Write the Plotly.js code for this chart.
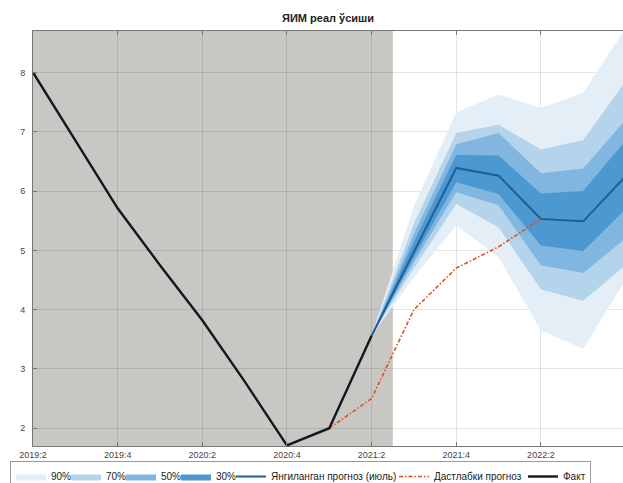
<!DOCTYPE html>
<html>
<head>
<meta charset="utf-8">
<script src="https://cdn.plot.ly/plotly-3.0.1.min.js"></script>
<style>
html,body{margin:0;padding:0;background:#fff;}
#chart{width:623px;height:483px;}
</style>
</head>
<body>
<div id="chart"></div>
<script>
// Quarters (category labels)
const quarters = ["2019:2","2019:3","2019:4","2020:1","2020:2","2020:3","2020:4",
                  "2021:1","2021:2","2021:3","2021:4","2022:1","2022:2","2022:3","2022:4"];
const tickLabels = ["2019:2","2019:4","2020:2","2020:4","2021:2","2021:4","2022:2","2022:4"];

// Actual (Факт), from 2019:2
const factStart = "2019:2";
const fact = [8.00, 6.86, 5.71, 4.75, 3.82, 2.79, 1.71, 2.00, 3.56];

// Initial forecast (Дастлабки прогноз), from 2021:1
const initialStart = "2021:1";
const initialForecast = [2.00, 2.50, 4.00, 4.70, 5.06, 5.53];

// Updated forecast (Янгиланган прогноз (июль)), from 2021:2
const updatedStart = "2021:2";
const updatedForecast = [3.56, 4.98, 6.39, 6.26, 5.53, 5.49, 6.25];

// Fan chart bands, from 2021:2
const band90Hi = [3.56, 5.75, 7.33, 7.63, 7.40, 7.66, 8.75];
const band90Lo = [3.56, 4.55, 5.42, 4.89, 3.65, 3.34, 4.50];
const band70Hi = [3.56, 5.45, 6.98, 7.12, 6.70, 6.86, 7.85];
const band70Lo = [3.56, 4.70, 5.78, 5.39, 4.34, 4.15, 4.75];
const band50Hi = [3.56, 5.28, 6.79, 6.98, 6.30, 6.38, 7.20];
const band50Lo = [3.56, 4.80, 5.98, 5.76, 4.75, 4.62, 5.20];
const band30Hi = [3.56, 5.15, 6.61, 6.60, 5.96, 6.00, 6.85];
const band30Lo = [3.56, 4.88, 6.15, 5.95, 5.08, 4.99, 5.70];

const bandNames = ["90%","70%","50%","30%"];
const bandColors = ["#e3eef7","#b4d4ec","#80b6df","#4c98d0"];

function idxRange(startLabel, n){
  const s = quarters.indexOf(startLabel);
  const out = [];
  for(let i=0;i<n;i++) out.push(s+i);
  return out;
}

const bandX = idxRange(updatedStart, band90Hi.length);
const bands = [[band90Hi,band90Lo],[band70Hi,band70Lo],[band50Hi,band50Lo],[band30Hi,band30Lo]];

const traces = [];
bands.forEach(function(b, k){
  traces.push({
    type:'scatter', mode:'lines',
    x: bandX.concat(bandX.slice().reverse()),
    y: b[0].concat(b[1].slice().reverse()),
    fill:'toself', fillcolor: bandColors[k],
    line:{width:0, color: bandColors[k]},
    name: bandNames[k], hoverinfo:'skip',
    legendwidth: 10
  });
});

traces.push({
  type:'scatter', mode:'lines',
  x: idxRange(updatedStart, updatedForecast.length), y: updatedForecast,
  line:{color:'#1f5f98', width:2},
  name:'Янгиланган прогноз (июль)', legendwidth: 118
});
traces.push({
  type:'scatter', mode:'lines',
  x: idxRange(initialStart, initialForecast.length), y: initialForecast,
  line:{color:'#d9531e', width:1.6, dash:'4px,2px,1.5px,2px'},
  name:'Дастлабки прогноз', legendwidth: 84
});
traces.push({
  type:'scatter', mode:'lines',
  x: idxRange(factStart, fact.length), y: fact,
  line:{color:'#121820', width:2.4},
  name:'Факт', legendwidth: 22
});

const tickVals = tickLabels.map(function(t){ return quarters.indexOf(t); });
const shadeEnd = quarters.indexOf(factStart) + fact.length - 0.5;

const layout = {
  width:623, height:483,
  margin:{l:33, r:0, t:31, b:37, autoexpand:false},
  paper_bgcolor:'#ffffff', plot_bgcolor:'#ffffff',
  font:{family:'Liberation Sans, Arial, sans-serif', color:'#222'},
  title:{text:'<b>ЯИМ реал ўсиши</b>', font:{size:11, color:'#222'},
         x:0.5, xref:'paper', xanchor:'center', y:1-18/483, yref:'container', yanchor:'middle'},
  xaxis:{
    range:[0, 13.94], tickmode:'array', tickvals:tickVals, ticktext:tickLabels,
    showgrid:true, gridcolor:'rgba(0,0,0,0.1)', gridwidth:1,
    zeroline:false, showline:true, linecolor:'#777', linewidth:1, mirror:'ticks',
    ticks:'inside', ticklen:4, tickcolor:'#777',
    tickfont:{size:9, color:'#444'}, automargin:false
  },
  yaxis:{
    range:[1.70, 8.70], tickmode:'array', tickvals:[2,3,4,5,6,7,8],
    showgrid:true, gridcolor:'rgba(0,0,0,0.1)', gridwidth:1,
    zeroline:false, showline:true, linecolor:'#777', linewidth:1,
    ticks:'inside', ticklen:4, tickcolor:'#777',
    tickfont:{size:9, color:'#444'}, ticklabelstandoff:5, automargin:false
  },
  shapes:[{
    type:'rect', xref:'x', yref:'paper', x0:-1, x1:shadeEnd, y0:0, y1:1,
    fillcolor:'rgb(200,199,195)', line:{width:0}, layer:'below'
  }],
  showlegend:true,
  legend:{
    orientation:'h', x:(10-33)/590, xanchor:'left', y:(446-461)/415, yanchor:'top',
    xref:'paper', yref:'paper',
    bgcolor:'#ffffff', bordercolor:'#999', borderwidth:1,
    font:{size:10, color:'#222'}, itemwidth:30, tracegroupgap:0,
    traceorder:'normal'
  }
};

Plotly.newPlot('chart', traces, layout, {displayModeBar:false, staticPlot:true});
</script>
</body>
</html>
